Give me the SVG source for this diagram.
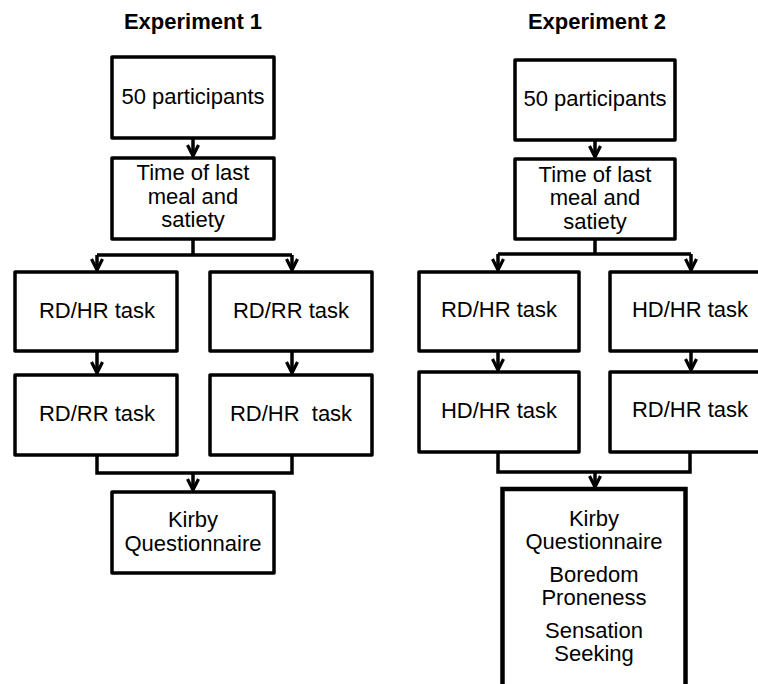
<svg xmlns="http://www.w3.org/2000/svg" width="758" height="684" viewBox="0 0 758 684">
<defs>
<style>
.box{fill:#fff;stroke:#000;stroke-width:3.5;stroke-linejoin:round}
.big{fill:#fff;stroke:#000;stroke-width:4.5}
.t{font-family:"Liberation Sans",Arial,sans-serif;font-size:22px;fill:#000;text-anchor:middle}
.h{font-family:"Liberation Sans",Arial,sans-serif;font-size:22px;font-weight:bold;fill:#000;text-anchor:middle}
.c{fill:none;stroke:#000;stroke-width:3.5}
</style>
<marker id="ah" markerUnits="userSpaceOnUse" viewBox="-12 -8 14 16" refX="0" refY="0" markerWidth="14" markerHeight="16" orient="auto">
<path d="M-11,-5.5 L0,0 L-11,5.5" fill="none" stroke="#000" stroke-width="3.2"/>
</marker>
</defs>
<rect width="758" height="684" fill="#fff"/>
<text class="h" x="193" y="29">Experiment 1</text>
<text class="h" x="597" y="29">Experiment 2</text>
<g id="connectors">
<path class="c" d="M193,138 V156" marker-end="url(#ah)"/>
<path class="c" d="M193,239 V255 M97,255 H292"/>
<path class="c" d="M97,255 V270" marker-end="url(#ah)"/>
<path class="c" d="M292,255 V270" marker-end="url(#ah)"/>
<path class="c" d="M97,351 V373" marker-end="url(#ah)"/>
<path class="c" d="M292,351 V373" marker-end="url(#ah)"/>
<path class="c" d="M97,455 V473 H292 V455"/>
<path class="c" d="M193,473 V490" marker-end="url(#ah)"/>
<path class="c" d="M595,140 V157" marker-end="url(#ah)"/>
<path class="c" d="M595,239 V254 M498,254 H691"/>
<path class="c" d="M498,254 V270" marker-end="url(#ah)"/>
<path class="c" d="M691,254 V270" marker-end="url(#ah)"/>
<path class="c" d="M498,351 V370" marker-end="url(#ah)"/>
<path class="c" d="M691,351 V370" marker-end="url(#ah)"/>
<path class="c" d="M498,452 V472 H690 V452"/>
<path class="c" d="M595,472 V487" marker-end="url(#ah)"/>
</g>
<g id="e1-participants"><rect class="box" x="112" y="57" width="162" height="81"/><text class="t" x="193" y="104">50 participants</text></g>
<g id="e1-meal"><rect class="box" x="112" y="158" width="162" height="81"/><text class="t"><tspan x="193" y="180">Time of last</tspan><tspan x="193" y="204">meal and</tspan><tspan x="193" y="227">satiety</tspan></text></g>
<g id="e1-a1"><rect class="box" x="15" y="272" width="162" height="79"/><text class="t" x="97" y="318">RD/HR task</text></g>
<g id="e1-b1"><rect class="box" x="210" y="272" width="162" height="79"/><text class="t" x="291" y="318">RD/RR task</text></g>
<g id="e1-a2"><rect class="box" x="15" y="375" width="162" height="80"/><text class="t" x="97" y="421">RD/RR task</text></g>
<g id="e1-b2"><rect class="box" x="210" y="375" width="162" height="80"/><text class="t" x="291" y="421" xml:space="preserve">RD/HR  task</text></g>
<g id="e1-kirby"><rect class="box" x="112" y="492" width="162" height="81"/><text class="t"><tspan x="193" y="527">Kirby</tspan><tspan x="193" y="551">Questionnaire</tspan></text></g>
<g id="e2-participants"><rect class="box" x="515" y="60" width="160" height="80"/><text class="t" x="595" y="106">50 participants</text></g>
<g id="e2-meal"><rect class="box" x="515" y="159" width="160" height="80"/><text class="t"><tspan x="595" y="182">Time of last</tspan><tspan x="595" y="205">meal and</tspan><tspan x="595" y="229">satiety</tspan></text></g>
<g id="e2-a1"><rect class="box" x="419" y="272" width="160" height="79"/><text class="t" x="499" y="317">RD/HR task</text></g>
<g id="e2-b1"><rect class="box" x="610" y="272" width="160" height="79"/><text class="t" x="690" y="317">HD/HR task</text></g>
<g id="e2-a2"><rect class="box" x="419" y="372" width="160" height="80"/><text class="t" x="499" y="418">HD/HR task</text></g>
<g id="e2-b2"><rect class="box" x="610" y="372" width="160" height="80"/><text class="t" x="690" y="417">RD/HR task</text></g>
<g id="e2-questionnaires"><rect class="big" x="502.5" y="489" width="183" height="210"/>
<text class="t"><tspan x="594" y="526">Kirby</tspan><tspan x="594" y="549">Questionnaire</tspan><tspan x="594" y="582">Boredom</tspan><tspan x="594" y="605">Proneness</tspan><tspan x="594" y="638">Sensation</tspan><tspan x="594" y="661">Seeking</tspan></text></g>
</svg>
